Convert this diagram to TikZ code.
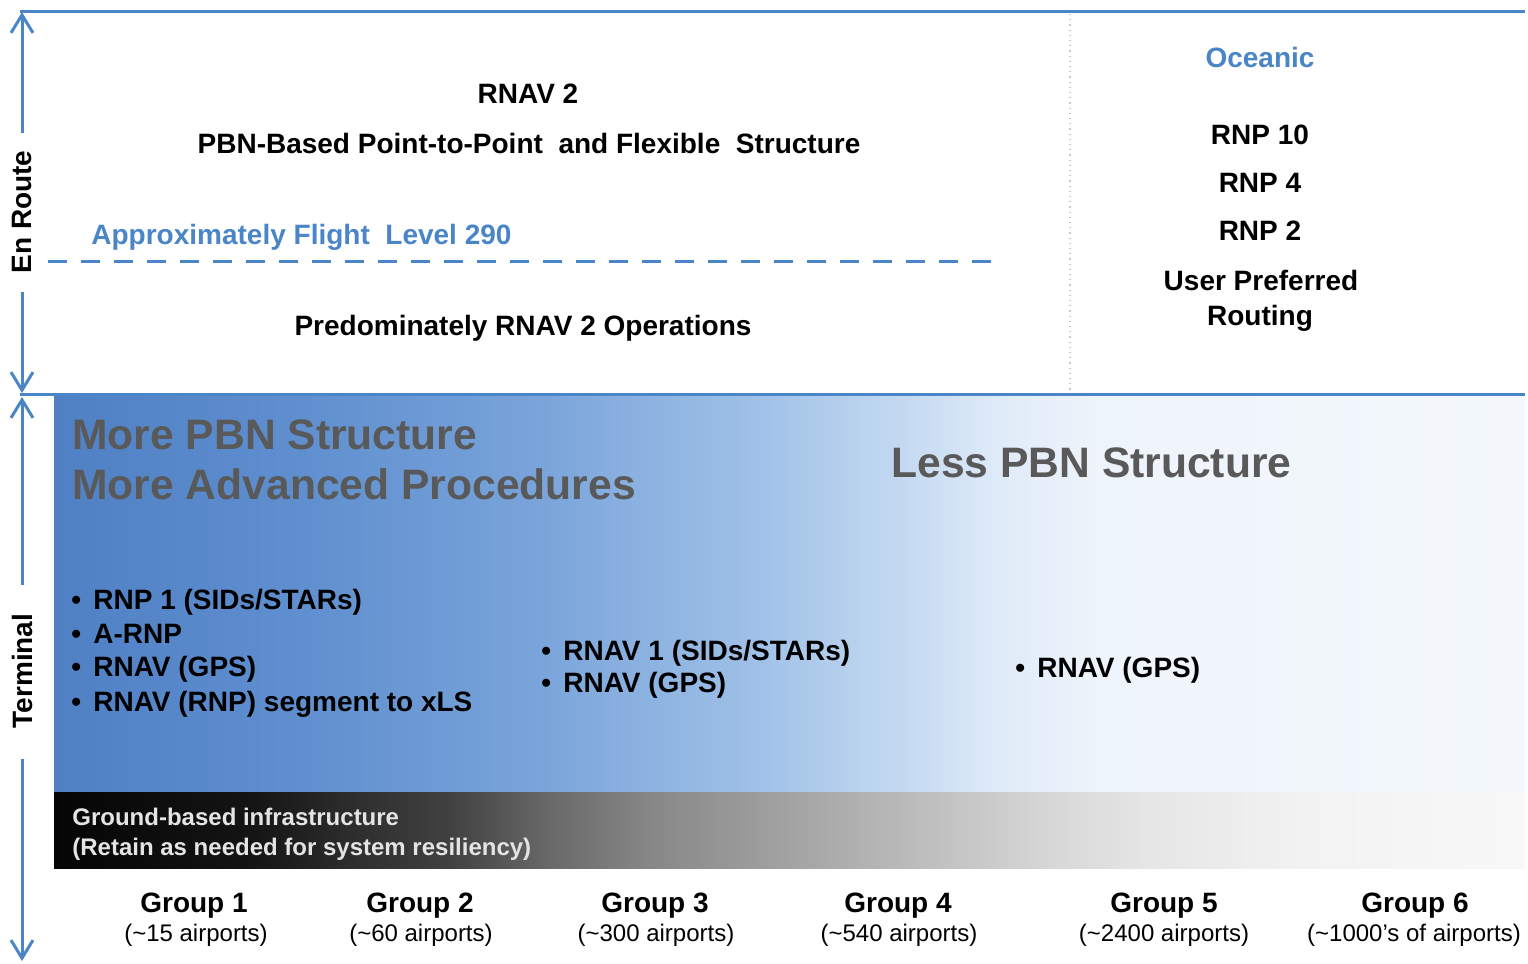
\documentclass[tikz,border=0pt]{standalone}
\usepackage{fontspec}
\setmainfont{Liberation Sans}
\usetikzlibrary{arrows.meta}
\definecolor{pbnblue}{RGB}{74,134,199}
\definecolor{headgray}{RGB}{89,89,89}
\definecolor{groundtxt}{RGB}{228,228,228}
\definecolor{dotgray}{RGB}{200,200,200}
\pgfdeclarehorizontalshading{bluefade}{100bp}{rgb(0bp)=(.310,.502,.769); rgb(25bp)=(.310,.502,.769); rgb(33.4bp)=(.373,.561,.812); rgb(41.5bp)=(.478,.643,.855); rgb(48.7bp)=(.620,.753,.906); rgb(53.8bp)=(.765,.851,.945); rgb(57.2bp)=(.878,.922,.973); rgb(60.6bp)=(.933,.957,.984); rgb(75bp)=(.957,.973,.988); rgb(100bp)=(.957,.973,.988)}
\pgfdeclarehorizontalshading{grayfade}{100bp}{rgb(0bp)=(.02,.02,.02); rgb(25bp)=(.02,.02,.02); rgb(31.66bp)=(.078,.078,.078); rgb(35.06bp)=(.176,.176,.176); rgb(38.46bp)=(.255,.255,.255); rgb(41.86bp)=(.412,.412,.412); rgb(45.26bp)=(.529,.529,.529); rgb(48.66bp)=(.608,.608,.608); rgb(52.06bp)=(.686,.686,.686); rgb(55.46bp)=(.765,.765,.765); rgb(58.86bp)=(.843,.843,.843); rgb(62.25bp)=(.902,.902,.902); rgb(67.35bp)=(.949,.949,.949); rgb(75bp)=(.973,.973,.973); rgb(100bp)=(.973,.973,.973)}
\newcommand{\bitem}{\makebox[11pt][l]{•}}
\begin{document}
\begin{tikzpicture}[x=0.5pt,y=-0.5pt,
  lbl/.style={inner sep=0pt, font=\bfseries\fontsize{14}{16}\selectfont},
  big/.style={inner sep=0pt, anchor=base west, text=headgray, font=\bfseries\fontsize{21.3}{24}\selectfont},
  bul/.style={lbl, anchor=base west},
  gtxt/.style={inner sep=0pt, anchor=base west, text=groundtxt, font=\bfseries\fontsize{12}{14}\selectfont},
  grp/.style={lbl, anchor=base},
  sub/.style={inner sep=0pt, anchor=base, font=\fontsize{12}{14}\selectfont},
  hline/.style={draw=pbnblue, line width=1.5pt},
  varrow/.style={draw=pbnblue, line width=1.5pt, -{Straight Barb[length=9pt,width=11pt]}}]
\useasboundingbox (0,0) rectangle (1528,964);
\fill[white] (0,0) rectangle (1528,964);
% shaded bands
\shade[shading=bluefade] (54,396) rectangle (1525,792);
\shade[shading=grayfade] (54,792) rectangle (1525,868);
% frame lines
\draw[hline] (20,11) -- (1525,11);
\draw[hline] (20,394) -- (1525,394);
\draw[dotgray, line width=0.6pt, dotted] (1070,14) -- (1070,391);
\draw[pbnblue, line width=1.5pt, dash pattern=on 9.5pt off 7pt] (48,261) -- (1000,261);
% side arrows
\node[lbl, rotate=90] (enroute) at (22,212) {En Route};
\node[lbl, rotate=90] (terminal) at (22,671) {Terminal};
\coordinate (erTop) at (22,12);
\coordinate (erBot) at (22,393);
\coordinate (tmTop) at (22,397);
\coordinate (tmBot) at (22,961);
\draw[varrow, shorten <=8.5pt] (enroute.east) -- (erTop);
\draw[varrow, shorten <=9pt] (enroute.west) -- (erBot);
\draw[varrow, shorten <=14pt] (terminal.east) -- (tmTop);
\draw[varrow, shorten <=15pt] (terminal.west) -- (tmBot);
% en route texts
\node[lbl, anchor=base] (rnav2) at (528,103) {RNAV 2};
\node[lbl, anchor=base] (pbnbased) at (529,153) {PBN-Based Point-to-Point\ \ and Flexible\ \ Structure};
\node[lbl, anchor=base west, text=pbnblue] (fl290) at (91,244) {Approximately Flight\ \ Level 290};
\node[lbl, anchor=base] (predom) at (523,335) {Predominately RNAV 2 Operations};
% oceanic
\node[lbl, anchor=base, text=pbnblue] (oceanic) at (1260,67) {Oceanic};
\node[lbl, anchor=base] (rnp10) at (1260,144) {RNP 10};
\node[lbl, anchor=base] (rnp4) at (1260,192) {RNP 4};
\node[lbl, anchor=base] (rnp2) at (1260,240) {RNP 2};
\node[lbl, anchor=base] (upr1) at (1261,290) {User Preferred};
\node[lbl, anchor=base] (upr2) at (1260,325) {Routing};
% terminal headings
\node[big] (more1) at (72,449) {More PBN Structure};
\node[big] (more2) at (72,499) {More Advanced Procedures};
\node[big] (less) at (891,477) {Less PBN Structure};
% bullets
\node[bul] (b1) at (71,609) {\bitem RNP 1 (SIDs/STARs)};
\node[bul] (b2) at (71,643) {\bitem A-RNP};
\node[bul] (b3) at (71,676) {\bitem RNAV (GPS)};
\node[bul] (b4) at (71,711) {\bitem RNAV (RNP) segment to xLS};
\node[bul] (m1) at (541,660) {\bitem RNAV 1 (SIDs/STARs)};
\node[bul] (m2) at (541,692) {\bitem RNAV (GPS)};
\node[bul] (r1) at (1015,677) {\bitem RNAV (GPS)};
% ground band
\node[gtxt] (g1) at (72,825) {Ground-based infrastructure};
\node[gtxt] (g2) at (72,855) {(Retain as needed for system resiliency)};
% groups
\node[grp] (gr1) at (194,912) {Group 1};
\node[sub] (gs1) at (196,941) {(\textasciitilde15 airports)};
\node[grp] (gr2) at (420,912) {Group 2};
\node[sub] (gs2) at (421,941) {(\textasciitilde60 airports)};
\node[grp] (gr3) at (655,912) {Group 3};
\node[sub] (gs3) at (656,941) {(\textasciitilde300 airports)};
\node[grp] (gr4) at (898,912) {Group 4};
\node[sub] (gs4) at (899,941) {(\textasciitilde540 airports)};
\node[grp] (gr5) at (1164,912) {Group 5};
\node[sub] (gs5) at (1164,941) {(\textasciitilde2400 airports)};
\node[grp] (gr6) at (1415,912) {Group 6};
\node[sub] (gs6) at (1414,941) {(\textasciitilde1000's of airports)};
\end{tikzpicture}
\end{document}
